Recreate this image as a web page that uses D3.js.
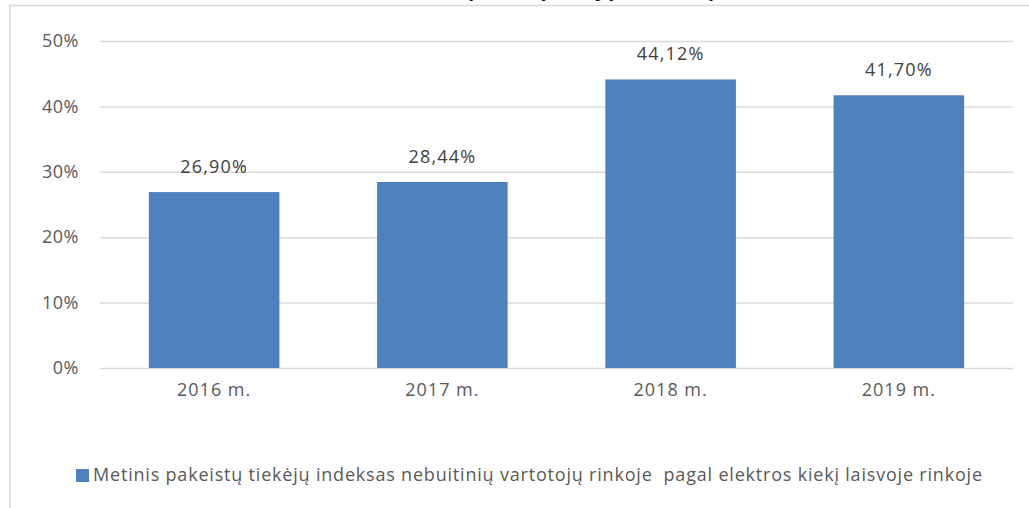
<!DOCTYPE html>
<html>
<head>
<meta charset="utf-8">
<script src="https://cdn.jsdelivr.net/npm/d3@7"></script>
<style>
  body { margin: 0; background: #fff; }
  text { font-family: "Open Sans", sans-serif; }
</style>
</head>
<body>
<div class="chart"></div>
<script>
const years = ["2016 m.", "2017 m.", "2018 m.", "2019 m."];
const values = [26.90, 28.44, 44.12, 41.70];
const yTicks = [0, 10, 20, 30, 40, 50];
const seriesName = "Metinis pakeistų tiekėjų indeksas nebuitinių vartotojų rinkoje  pagal elektros kiekį laisvoje rinkoje";
const title = "Metinis pakeistų tiekėjų indeksas, proc.";

const W = 1029, H = 508;
const margin = ({top: 41, right: 16, bottom: 140, left: 100});
const width = W - margin.left - margin.right;
const height = H - margin.top - margin.bottom;
const font = '"Open Sans", sans-serif';

const svg = d3.select('.chart').append('svg')
    .attr("width", W)
    .attr("height", H);

// frame of the chart area (only top and left edges are visible)
svg.append("line")
    .attr("x1", 10).attr("x2", W).attr("y1", 5.5).attr("y2", 5.5)
    .attr("stroke", "#d9d9d9").attr("stroke-width", 1.5);
svg.append("line")
    .attr("x1", 10).attr("x2", 10).attr("y1", 5).attr("y2", H)
    .attr("stroke", "#d9d9d9").attr("stroke-width", 1.5);

// title, cut off above the picture as in the original
svg.append("text")
    .attr("x", 575)
    .attr("y", -3)
    .attr("text-anchor", "middle")
    .attr("font-size", "18px")
    .attr("font-weight", "bold")
    .attr("fill", "#000")
    .text(title);

const g = svg.append("g")
    .attr("transform", `translate(${margin.left},${margin.top})`);

const xScale = d3.scaleBand()
    .domain(years)
    .range([0, width])
    .paddingInner(0.428)
    .paddingOuter(0.214);

const yScale = d3.scaleLinear()
    .domain([0, 50])
    .range([height, 0]);

const yAxis = d3.axisLeft(yScale)
    .tickValues(yTicks)
    .tickFormat(d => d + "%")
    .tickSize(-width)
    .tickPadding(21);

g.append("g")
    .attr("class", "axis y-axis")
    .call(yAxis)
    .call(s => s.select(".domain").remove())
    .call(s => s.selectAll(".tick line").attr("stroke", "#d9d9d9").attr("stroke-width", 1.5))
    .call(s => s.selectAll(".tick text")
        .attr("fill", "#595959")
        .attr("font-size", "18px")
        .attr("letter-spacing", "0.5px")
        .attr("font-family", font));

const xAxis = d3.axisBottom(xScale)
    .tickSize(0)
    .tickPadding(15);

g.append("g")
    .attr("class", "axis x-axis")
    .attr("transform", `translate(0,${height})`)
    .call(xAxis)
    .call(s => s.select(".domain").remove())
    .call(s => s.selectAll(".tick text")
        .attr("fill", "#595959")
        .attr("font-size", "18px")
        .attr("letter-spacing", "1px")
        .attr("font-family", font));

g.append("g")
    .selectAll("rect")
    .data(values)
    .join("rect")
    .attr("x", (d, i) => xScale(years[i]))
    .attr("y", d => yScale(d))
    .attr("width", xScale.bandwidth())
    .attr("height", d => height - yScale(d))
    .attr("fill", "#4f81bd");

g.append("g")
    .selectAll("text")
    .data(values)
    .join("text")
    .attr("x", (d, i) => xScale(years[i]) + xScale.bandwidth() / 2)
    .attr("y", d => yScale(d) - 19)
    .attr("text-anchor", "middle")
    .attr("font-size", "18px")
    .attr("letter-spacing", "1.2px")
    .attr("fill", "#404040")
    .text(d => d3.format(".2f")(d).replace(".", ",") + "%");

// legend
const legend = svg.append("g")
    .attr("transform", "translate(76,469)");
legend.append("rect")
    .attr("width", 13)
    .attr("height", 13)
    .attr("fill", "#4f81bd");
legend.append("text")
    .attr("x", 17)
    .attr("y", 12)
    .attr("font-size", "18px")
    .attr("fill", "#595959")
    .attr("textLength", 889)
    .attr("lengthAdjust", "spacing")
    .style("white-space", "pre")
    .text(seriesName);
</script>
</body>
</html>
